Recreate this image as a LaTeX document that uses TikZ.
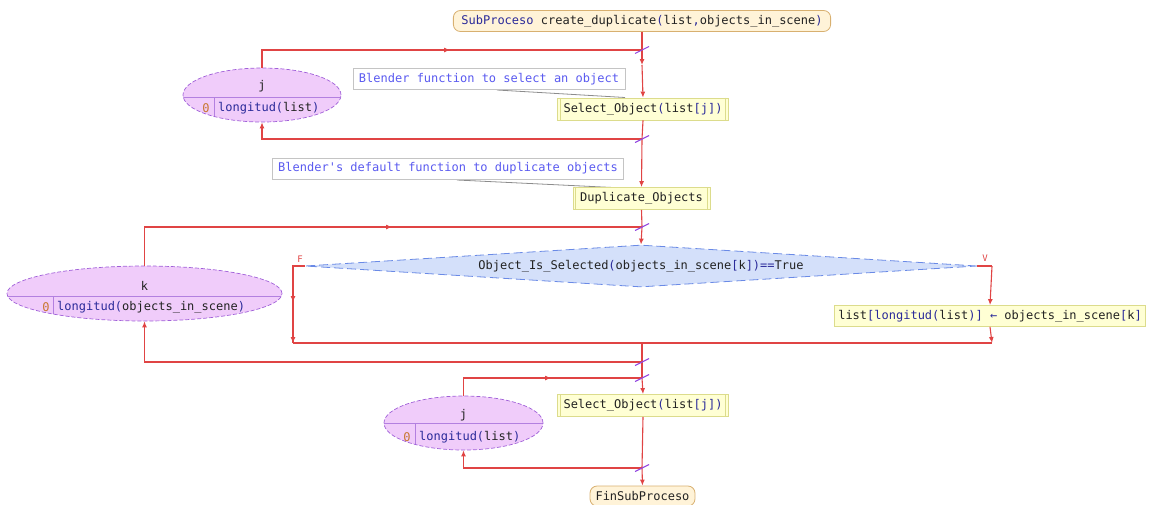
\documentclass[tikz,border=0pt]{standalone}
\usepackage{fontspec}
\newfontfamily\codefont{DejaVu Sans Mono}
\usetikzlibrary{shapes.geometric,arrows.meta}
\definecolor{flowred}{HTML}{E04444}
\definecolor{slashpurple}{HTML}{9448E0}
\definecolor{codedark}{HTML}{222222}
\definecolor{codeblue}{HTML}{2A2A9A}
\definecolor{zeroorange}{HTML}{C87830}
\definecolor{notetext}{HTML}{5A5AF0}
\definecolor{noteborder}{HTML}{C4C4C4}
\definecolor{boxfill}{HTML}{FFFFD4}
\definecolor{boxborder}{HTML}{DCDC8C}
\definecolor{termfill}{HTML}{FFF3D8}
\definecolor{termborder}{HTML}{D8B070}
\definecolor{ellfill}{HTML}{F0CCFA}
\definecolor{ellborder}{HTML}{A060D8}
\definecolor{decfill}{HTML}{D4E0FA}
\definecolor{decborder}{HTML}{6A8AE6}
\newcommand{\bl}[1]{\textcolor{codeblue}{#1}}
\tikzset{
  codefnt/.style={font=\codefont\fontsize{12}{14}\selectfont},
  flow/.style={draw=flowred, line width=1.1pt},
  tip/.style={-{Latex[length=6pt,width=5pt]}},
  slash/.style={draw=slashpurple, line width=1.1pt},
  txt/.style={codefnt, text=codedark, inner sep=0pt},
  procbox/.style={codefnt, text=codedark, draw=boxborder, fill=boxfill, line width=0.8pt,
    minimum height=22pt, inner ysep=0pt},
  termbox/.style={codefnt, text=codedark, draw=termborder, fill=termfill, line width=0.8pt,
    rounded corners=7pt, minimum height=21pt, inner ysep=0pt},
  notebox/.style={codefnt, text=notetext, draw=noteborder, fill=white, line width=0.8pt,
    minimum height=21pt, inner ysep=0pt},
  noteline/.style={draw=black!45, line width=0.8pt},
  sepline/.style={draw=ellborder!80, line width=0.6pt},
  loopell/.style n args={4}{ellipse, draw=ellborder, fill=ellfill, line width=0.7pt,
    dash pattern=on 4pt off 2pt, minimum width=#1, minimum height=#2, inner sep=0pt,
    path picture={
      \draw[sepline, solid] ([yshift=#3]path picture bounding box.west) -- ([yshift=#3]path picture bounding box.east);
      \draw[sepline, solid] ([xshift=#4,yshift=#3]path picture bounding box.center) -- ([xshift=#4,yshift=-40pt]path picture bounding box.center);
    }},
  decision/.style={diamond, aspect=16, draw=decborder, fill=decfill, line width=0.8pt,
    dash pattern=on 9pt off 4pt, minimum width=672pt, minimum height=42pt, inner sep=0pt,
    codefnt, text=codedark},
  branchlbl/.style={font=\codefont\fontsize{9}{10}\selectfont, text=flowred, inner sep=0pt},
}
\begin{document}
\begin{tikzpicture}[x=1pt, y=-1pt]
\useasboundingbox (0,0) rectangle (1150,504);

% coordinates
\coordinate (j1top) at (642,50);
\coordinate (m1) at (450,50);
\coordinate (m1b) at (642,65);
\coordinate (j1bot) at (642,139);
\coordinate (j2top) at (642,227);
\coordinate (m2) at (392,227);
\coordinate (fL) at (293,266);
\coordinate (fLm) at (293,302);
\coordinate (fLb) at (293,343);
\coordinate (vR) at (992,266);
\coordinate (vRb) at (992,343);
\coordinate (join) at (642,343);
\coordinate (j2bot) at (642,362);
\coordinate (j3top) at (642,378);
\coordinate (m3) at (551,378);
\coordinate (j3bot) at (642,468);
\coordinate (n1a) at (497,90);
\coordinate (n1b) at (625,97.5);
\coordinate (n2a) at (457,180);
\coordinate (n2b) at (613,187.5);

% note connectors (behind boxes)
\draw[noteline] (n1a) -- (n1b);
\draw[noteline] (n2a) -- (n2b);

% nodes
\node[termbox, inner xsep=8pt] (start) at (642,21) {\bl{SubProceso} create\_duplicate\bl{(}list\bl{,}objects\_in\_scene\bl{)}};

\node[loopell={158pt}{54pt}{-2pt}{-48pt}] (ej1) at (262,95) {};
\node[txt] (ej1v) at (262,86) {j};
\node[txt, text=zeroorange] (ej1s) at (206,108) {0};
\node[txt, anchor=west] (ej1e) at (218,108) {\bl{longitud(}list\bl{)}};

\node[notebox, inner xsep=6pt] (cm1) at (489,79) {Blender function to select an object};
\node[procbox, inner xsep=6pt] (sel1) at (643,109) {Select\_Object\bl{(}list\bl{[j])}};

\node[notebox, inner xsep=5.5pt] (cm2) at (448,168.5) {Blender's default function to duplicate objects};
\node[procbox, inner xsep=7pt] (dup) at (641.5,198.5) {Duplicate\_Objects};

\node[loopell={275pt}{55pt}{-2.5pt}{-91.5pt}] (ek) at (144.5,293.5) {};
\node[txt] (ekv) at (144.5,286) {k};
\node[txt, text=zeroorange] (eks) at (46,307) {0};
\node[txt, anchor=west] (eke) at (57,307) {\bl{longitud(}objects\_in\_scene\bl{)}};

\node[decision] (dec) at (641,266) {Object\_Is\_Selected\bl{(}objects\_in\_scene\bl{[}k\bl{])==}True};
\node[branchlbl] (flbl) at (300,259) {F};
\node[branchlbl] (vlbl) at (985,258) {V};

\node[procbox, inner xsep=3.5pt, minimum height=21pt] (asg) at (990,316) {list\bl{[longitud(}list\bl{)]} \bl{←} objects\_in\_scene\bl{[}k\bl{]}};

\node[loopell={159pt}{54pt}{0pt}{-48.5pt}] (ej2) at (463.5,423) {};
\node[txt] (ej2v) at (463.5,415) {j};
\node[txt, text=zeroorange] (ej2s) at (407,437) {0};
\node[txt, anchor=west] (ej2e) at (419,437) {\bl{longitud(}list\bl{)}};

\node[procbox, inner xsep=6pt] (sel2) at (643,405.5) {Select\_Object\bl{(}list\bl{[j])}};

\node[termbox, inner xsep=5.5pt, minimum height=20pt] (fin) at (642.5,496) {FinSubProceso};

% double side bars of subprocess boxes
\foreach \b in {sel1,dup,sel2}{
  \draw[draw=boxborder, line width=0.8pt] ([xshift=3pt]\b.north west) -- ([xshift=3pt]\b.south west);
  \draw[draw=boxborder, line width=0.8pt] ([xshift=-3pt]\b.north east) -- ([xshift=-3pt]\b.south east);
}

% flow: loop 1
\draw[flow] (start.south) -- (j1top);
\draw[flow] (ej1.north) |- (j1top);
\draw[flow, tip] ([xshift=-8pt]m1) -- (m1);
\draw[flow, tip] (j1top) -- (m1b);
\draw[flow, tip] (m1b) -- (sel1.north);
\draw[flow] (sel1.south) -- (j1bot);
\draw[flow, tip] (j1bot) -| (ej1.south);
\draw[flow, tip] (j1bot) -- (dup.north);

% loop 2
\draw[flow] (dup.south) -- (j2top);
\draw[flow] (ek.north) |- (j2top);
\draw[flow, tip] ([xshift=-8pt]m2) -- (m2);
\draw[flow, tip] (j2top) -- (dec.north);
\draw[flow] (dec.west) -- (fL) -- (fLb);
\draw[flow, tip] ([yshift=8pt]fLm) -- (fLm);
\draw[flow, tip] ([yshift=8pt]fLb) -- (fLb);
\draw[flow] (dec.east) -- (vR);
\draw[flow, tip] (vR) -- (asg.north);
\draw[flow, tip] (asg.south) -- (vRb);
\draw[flow] (fLb) -- (vRb);
\draw[flow] (join) -- (j2bot);
\draw[flow, tip] (j2bot) -| (ek.south);

% loop 3
\draw[flow] (j2bot) -- (j3top);
\draw[flow] (ej2.north) |- (j3top);
\draw[flow, tip] ([xshift=-8pt]m3) -- (m3);
\draw[flow, tip] (j3top) -- (sel2.north);
\draw[flow] (sel2.south) -- (j3bot);
\draw[flow, tip] (j3bot) -| (ej2.south);
\draw[flow, tip] (j3bot) -- (fin.north);

% junction slashes
\foreach \c in {j1top,j1bot,j2top,j2bot,j3top,j3bot}{
  \draw[slash] ([shift={(-7,3.5)}]\c) -- ([shift={(7,-3.5)}]\c);
}
\end{tikzpicture}
\end{document}
